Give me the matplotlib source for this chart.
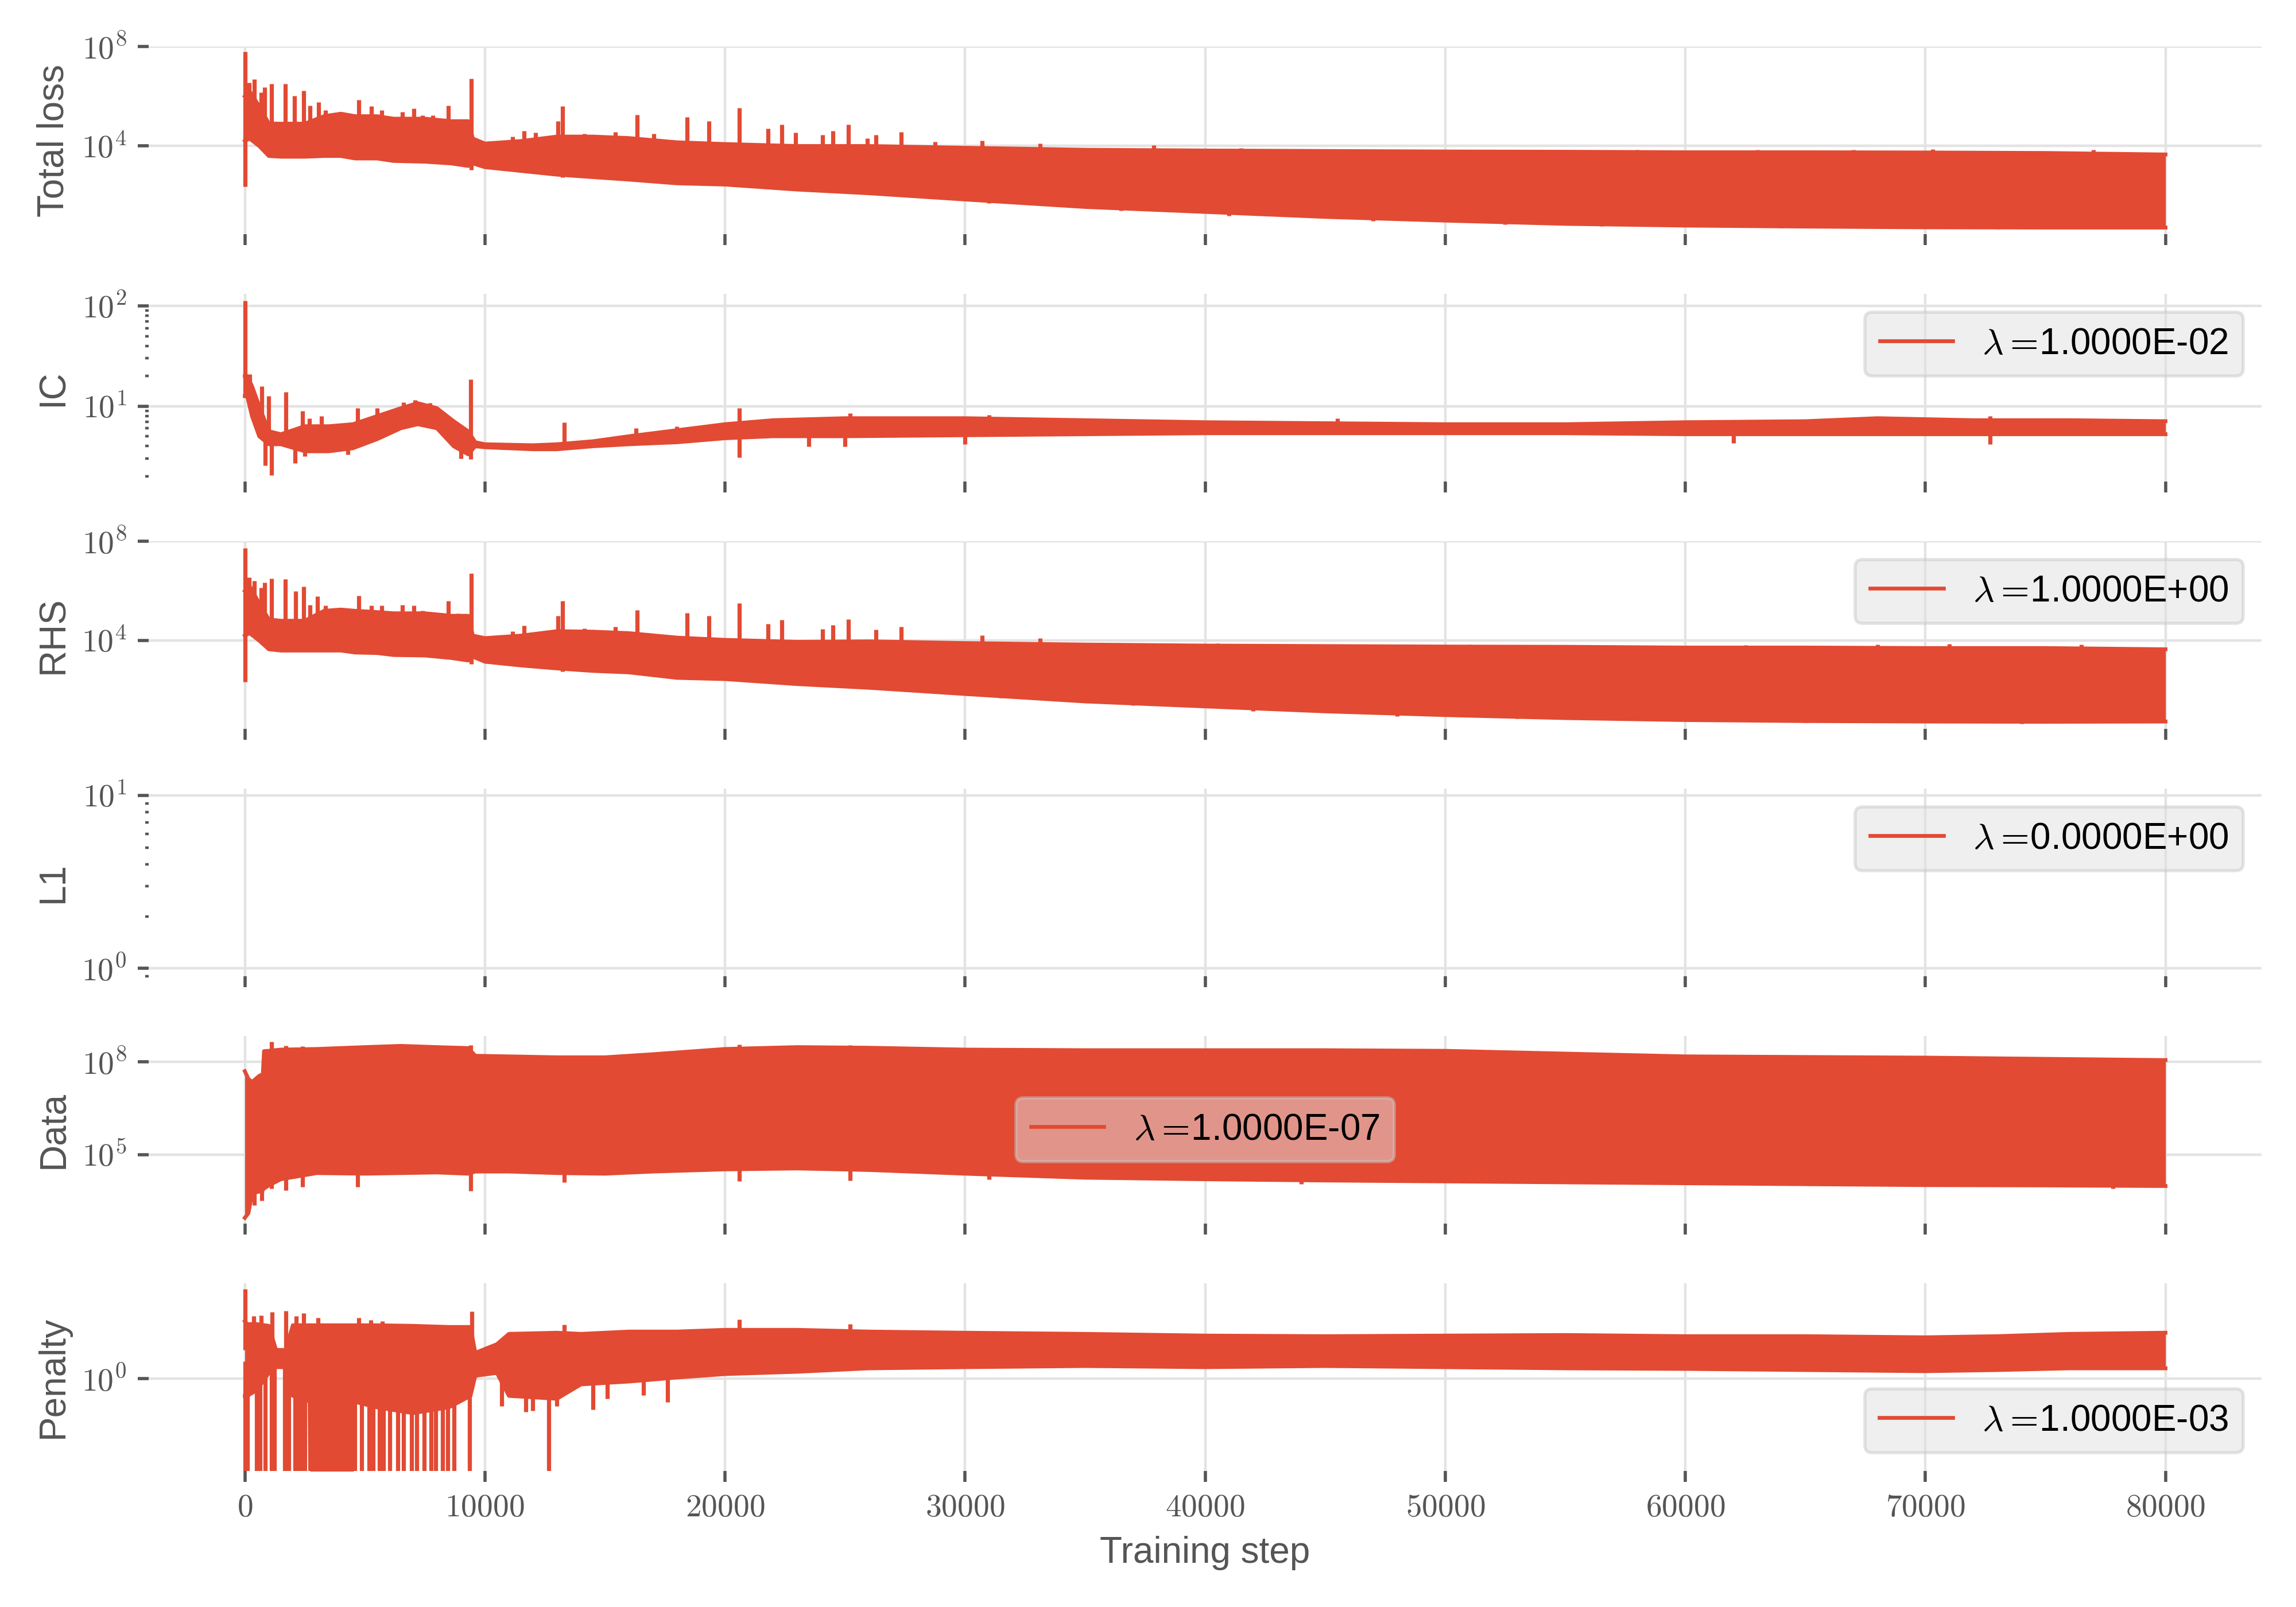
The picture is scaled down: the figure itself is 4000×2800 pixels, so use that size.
import numpy as np
import matplotlib
matplotlib.use("Agg")
import matplotlib.pyplot as plt
from matplotlib.ticker import FixedLocator, FuncFormatter, NullLocator, LogLocator, NullFormatter

# all loss values below as log10 exponents
RED = "#E24A33"

# Total loss
total_steps = [0, 200, 600, 1000, 1500, 2500, 3300, 4000, 4600, 5500, 6200, 7500, 8600, 9300, 9500, 10000,
               11500, 13000, 14500, 16000, 18000, 20000, 23000, 26000, 30000, 35000, 40000, 45000, 50000,
               55000, 60000, 65000, 70000, 75000, 80000]
total_hi = [6.0, 6.2, 5.6, 4.9, 4.9, 4.9, 5.2, 5.3, 5.2, 5.2, 5.1, 5.1, 5.0, 5.0, 4.3, 4.1, 4.2, 4.38,
            4.38, 4.32, 4.15, 4.08, 4.0, 4.0, 3.93, 3.85, 3.82, 3.8, 3.78, 3.77, 3.75, 3.75, 3.74, 3.72, 3.66]
total_lo = [4.2, 4.3, 4.0, 3.6, 3.57, 3.57, 3.6, 3.6, 3.5, 3.5, 3.4, 3.37, 3.3, 3.2, 3.3, 3.15, 3.0, 2.85,
            2.75, 2.65, 2.5, 2.45, 2.25, 2.1, 1.85, 1.55, 1.35, 1.15, 1.0, 0.87, 0.8, 0.76, 0.73, 0.72, 0.72]
total_spike_steps = [0, 190, 320, 400, 680, 830, 1110, 1690, 2070, 2460, 2710, 3060, 3350, 3650, 3980, 4740,
                     5280, 5700, 6560, 7050, 7410, 7840, 8480, 8880, 9440, 11150, 11620, 12100, 13030, 13230,
                     14150, 15430, 16350, 17030, 18420, 19320, 20600, 21800, 22370, 22950, 24060, 24490,
                     25130, 25920, 26280, 27350, 28760, 30700, 33120, 37860,
                     40000, 41500, 44000, 52000, 58000, 63000, 67000, 70300, 77000,
                     9440, 13230, 31000, 36500, 41000, 47000, 52500, 56500, 64000, 73000]
total_spike_lo = [2.38, 5.0, 5.0, 5.0, 4.8, 4.8, 4.3, 4.3, 4.3, 4.3, 4.5, 4.5, 4.6, 4.6, 4.6, 4.5, 4.5, 4.5,
                  4.4, 4.4, 4.4, 4.3, 4.3, 4.2, 4.0, 3.7, 3.7, 3.7, 3.6, 3.6, 3.5, 3.5, 3.5, 3.4, 3.3, 3.3,
                  3.2, 3.1, 3.0, 3.0, 3.0, 3.0, 3.0, 2.9, 2.9, 2.8, 2.7, 2.6, 2.5, 2.3,
                  3.5, 3.5, 3.5, 3.5, 3.5, 3.5, 3.5, 3.5, 3.4,
                  3.05, 2.75, 1.7, 1.4, 1.2, 0.98, 0.85, 0.78, 0.7, 0.66]
total_spike_hi = [7.79, 6.56, 6.03, 6.7, 6.16, 6.36, 6.5, 6.5, 6.03, 6.23, 5.63, 5.77, 5.44, 5.3, 5.35, 5.86,
                  5.6, 5.44, 5.37, 5.5, 5.24, 5.24, 5.63, 5.04, 6.72, 4.37, 4.6, 4.55, 5.0, 5.6, 4.5, 4.57,
                  5.26, 4.5, 5.17, 5.0, 5.54, 4.7, 4.86, 4.54, 4.46, 4.62, 4.87, 4.31, 4.44, 4.57, 4.17,
                  4.22, 4.1, 4.04,
                  3.9, 3.92, 3.87, 3.86, 3.84, 3.84, 3.86, 3.88, 3.85,
                  3.4, 3.1, 2.1, 1.8, 1.6, 1.3, 1.2, 1.1, 1.0, 1.0]

# IC
ic_steps = [0, 100, 300, 600, 1000, 1500, 2500, 3500, 4500, 5500, 6500, 7200, 8000, 8700, 9300, 9600, 10000,
            12000, 13000, 14500, 16000, 18000, 20000, 22000, 25000, 30000, 35000, 40000, 45000, 50000, 55000,
            60000, 65000, 68000, 72000, 76000, 80000]
ic_hi = [1.3, 1.3, 1.2, 1.0, 0.75, 0.72, 0.8, 0.8, 0.82, 0.9, 0.98, 1.03, 0.98, 0.85, 0.75, 0.64, 0.62,
         0.61, 0.62, 0.65, 0.7, 0.76, 0.82, 0.86, 0.88, 0.88, 0.86, 0.84, 0.83, 0.82, 0.82, 0.84, 0.85, 0.88,
         0.86, 0.86, 0.85]
ic_lo = [1.1, 1.1, 0.9, 0.7, 0.62, 0.62, 0.55, 0.55, 0.58, 0.67, 0.78, 0.82, 0.78, 0.6, 0.52, 0.6, 0.59,
         0.57, 0.57, 0.6, 0.62, 0.64, 0.68, 0.7, 0.7, 0.71, 0.72, 0.73, 0.73, 0.73, 0.73, 0.72, 0.72, 0.72,
         0.72, 0.72, 0.72]
ic_spike_steps = [0, 200, 700, 1000, 1700, 2400, 2700, 3200, 4700, 5500, 6600, 7100, 7700, 9400, 13300, 16300,
                  18000, 20600, 25200, 31000, 45500, 72700, 74000,
                  850, 1100, 2100, 2500, 3100, 4300, 9000, 9400, 20600, 23500, 25000, 30000, 62000, 72700]
ic_spike_lo = [1.12, 1.1, 0.9, 0.7, 0.64, 0.7, 0.7, 0.7, 0.75, 0.8, 0.9, 0.9, 0.9, 0.6, 0.58, 0.65, 0.7,
               0.75, 0.8, 0.8, 0.78, 0.78, 0.78,
               0.41, 0.31, 0.43, 0.5, 0.55, 0.52, 0.48, 0.47, 0.49, 0.6, 0.6, 0.62, 0.63, 0.62]
ic_spike_hi = [2.05, 1.32, 1.2, 1.1, 1.14, 0.95, 0.88, 0.9, 0.98, 0.98, 1.04, 1.06, 1.03, 1.27, 0.84, 0.78,
               0.8, 0.98, 0.93, 0.91, 0.88, 0.9, 0.88,
               0.7, 0.64, 0.64, 0.6, 0.6, 0.6, 0.6, 0.55, 0.7, 0.72, 0.72, 0.72, 0.73, 0.73]

# RHS
rhs_steps = [0, 200, 600, 1000, 1500, 2500, 3300, 4000, 4600, 5500, 6200, 7500, 8600, 9300, 9500, 10000,
             11500, 13000, 14500, 16000, 18000, 20000, 23000, 26000, 30000, 35000, 40000, 45000, 50000,
             55000, 60000, 65000, 70000, 75000, 80000]
rhs_hi = [6.0, 6.2, 5.5, 4.85, 4.8, 4.8, 5.2, 5.25, 5.2, 5.15, 5.1, 5.1, 5.0, 5.0, 4.2, 4.1, 4.2, 4.38, 4.36,
          4.3, 4.12, 4.03, 3.95, 3.97, 3.9, 3.84, 3.8, 3.78, 3.76, 3.75, 3.72, 3.72, 3.7, 3.7, 3.65]
rhs_lo = [4.2, 4.3, 4.0, 3.65, 3.6, 3.6, 3.6, 3.6, 3.52, 3.5, 3.42, 3.4, 3.3, 3.2, 3.35, 3.15, 3.0, 2.88,
          2.78, 2.72, 2.5, 2.45, 2.25, 2.1, 1.85, 1.55, 1.35, 1.15, 1.0, 0.88, 0.8, 0.76, 0.74, 0.73, 0.74]
rhs_spike_steps = [0, 190, 400, 680, 830, 1110, 1690, 2110, 2460, 2710, 3030, 3350, 4740, 5280, 5700, 6560,
                   7050, 7410, 8480, 8880, 9440, 11150, 11620, 13030, 13230, 14150, 15430, 16350, 18420,
                   19320, 20600, 21800, 22370, 24060, 24490, 25130, 26280, 27350, 30700, 33120,
                   40500, 43000, 51000, 57000, 62500, 68000, 71000, 76500,
                   9440, 13230, 31500, 37000, 42000, 48000, 53000, 57500, 65000, 74000]
rhs_spike_lo = [2.35, 5.0, 5.0, 4.8, 4.8, 4.3, 4.3, 4.3, 4.3, 4.5, 4.5, 4.6, 4.5, 4.5, 4.5, 4.4, 4.4, 4.4,
                4.3, 4.2, 4.0, 3.7, 3.7, 3.6, 3.6, 3.5, 3.5, 3.5, 3.3, 3.3, 3.2, 3.1, 3.0, 3.0, 3.0, 3.0,
                2.9, 2.8, 2.6, 2.5,
                3.5, 3.5, 3.5, 3.5, 3.5, 3.5, 3.5, 3.4,
                3.05, 2.75, 1.7, 1.4, 1.15, 0.95, 0.85, 0.78, 0.7, 0.66]
rhs_spike_hi = [7.73, 6.54, 6.4, 6.14, 6.34, 6.5, 6.47, 6.0, 6.18, 5.44, 5.78, 5.41, 5.8, 5.41, 5.41, 5.44,
                5.41, 5.2, 5.61, 5.1, 6.71, 4.37, 4.6, 5.0, 5.6, 4.5, 4.57, 5.24, 5.12, 5.0, 5.51, 4.68,
                4.84, 4.46, 4.62, 4.85, 4.44, 4.55, 4.22, 4.1,
                3.88, 3.86, 3.84, 3.83, 3.82, 3.85, 3.86, 3.84,
                3.4, 3.1, 2.1, 1.8, 1.55, 1.3, 1.2, 1.1, 1.0, 1.0]

# L1 (all zero)
l1_steps = [0, 80000]
l1_values = [0.0, 0.0]

# Data
data_steps = [0, 150, 300, 600, 750, 800, 1000, 1500, 3000, 5000, 6500, 8000, 9300, 9600, 11000, 13000,
              15000, 17000, 20000, 23000, 26000, 30000, 35000, 40000, 45000, 50000, 55000, 60000, 65000,
              70000, 75000, 80000]
data_hi = [7.7, 7.45, 7.35, 7.55, 7.6, 8.35, 8.36, 8.4, 8.42, 8.48, 8.52, 8.48, 8.45, 8.2, 8.18, 8.15,
           8.15, 8.25, 8.42, 8.48, 8.46, 8.4, 8.38, 8.38, 8.38, 8.36, 8.27, 8.18, 8.16, 8.14, 8.1, 8.06]
data_lo = [2.95, 3.1, 3.75, 3.8, 3.85, 3.9, 4.0, 4.2, 4.4, 4.38, 4.4, 4.42, 4.38, 4.45, 4.45, 4.4, 4.38,
           4.45, 4.52, 4.55, 4.5, 4.38, 4.25, 4.2, 4.16, 4.13, 4.1, 4.07, 4.04, 4.01, 4.0, 3.98]
data_spike_steps = [1100, 1700, 2400, 9400, 20600, 25200, 33000, 47000, 74500,
                    400, 700, 1100, 1700, 2400, 4700, 9400, 13300, 20600, 25200, 31000, 44000, 77800]
data_spike_lo = [8.3, 8.35, 8.35, 8.35, 8.35, 8.4, 8.3, 8.3, 8.0,
                 3.35, 3.5, 3.9, 3.85, 3.95, 3.95, 3.83, 4.1, 4.13, 4.15, 4.2, 4.05, 3.9]
data_spike_hi = [8.65, 8.52, 8.5, 8.54, 8.56, 8.55, 8.45, 8.44, 8.16,
                 4.0, 4.0, 4.2, 4.3, 4.4, 4.4, 4.4, 4.45, 4.55, 4.55, 4.45, 4.3, 4.1]

# Penalty
pen_steps = [0, 100, 500, 1000, 1300, 1700, 2000, 2700, 2750, 4500, 4550, 5500, 7000, 8500, 9400, 9600,
             10500, 11000, 13000, 14000, 16000, 18000, 20000, 23000, 26000, 30000, 35000, 40000, 45000,
             50000, 55000, 60000, 65000, 70000, 73000, 76000, 80000]
pen_hi = [1.0, 0.95, 0.95, 0.92, 0.5, 0.5, 0.93, 0.93, 0.93, 0.93, 0.93, 0.93, 0.92, 0.9, 0.9, 0.45, 0.6,
          0.78, 0.8, 0.78, 0.82, 0.82, 0.85, 0.85, 0.82, 0.8, 0.78, 0.75, 0.74, 0.75, 0.76, 0.74, 0.74,
          0.72, 0.74, 0.78, 0.8]
pen_lo = [-0.3, -0.3, -0.2, 0.1, 0.2, 0.2, -0.3, -0.4, -3.0, -3.0, -0.4, -0.5, -0.6, -0.5, -0.3, 0.05, 0.1,
          -0.3, -0.35, -0.1, -0.05, 0.02, 0.08, 0.12, 0.18, 0.2, 0.22, 0.2, 0.22, 0.2, 0.18, 0.17, 0.15,
          0.13, 0.15, 0.18, 0.18]
pen_spike_steps = [0, 370, 690, 1140, 1710, 2140, 2440, 3040, 4750, 5240, 5720, 9450, 13300, 20600, 25200,
                   10700, 11700, 12000, 13000, 14500, 15100, 16600, 17600]
pen_spike_lo = [0.5, 0.5, 0.5, 0.4, 0.4, 0.6, 0.6, 0.6, 0.6, 0.6, 0.6, 0.6, 0.5, 0.5, 0.5,
                -0.48, -0.58, -0.56, -0.48, -0.54, -0.35, -0.29, -0.41]
pen_spike_hi = [1.56, 1.09, 1.1, 1.16, 1.18, 1.09, 1.14, 1.06, 1.06, 1.02, 1.0, 1.17, 0.94, 1.03, 0.95,
                0.1, 0.0, 0.0, 0.0, 0.1, 0.1, 0.1, 0.1]
# steps where the penalty falls to zero
pen_drop_steps = [20, 100, 480, 640, 850, 1120, 1230, 1650, 1820, 2080, 2190, 2350, 2510, 4590, 4860, 5180,
                  5340, 5610, 5770, 6040, 6360, 6620, 6950, 7160, 7480, 7750, 7960, 8230, 8440, 8710, 9350,
                  12650]
pen_drop_from = [0.3] * 31 + [-0.3]

lambda_labels = ["1.0000E-02", "1.0000E+00", "0.0000E+00", "1.0000E-07", "1.0000E-03"]
legend_locs = ["upper right", "upper right", "upper right", "center", "lower right"]
ylabels = ["Total loss", "IC", "RHS", "L1", "Data", "Penalty"]
ylims_exp = [(0.45, 8.0), (0.247, 2.12), (0.44, 8.0), (-0.046, 1.04), (2.76, 8.84), (-1.61, 1.66)]
yticks_exp = [[4, 8], [1, 2], [4, 8], [0, 1], [5, 8], [0]]

plt.rcParams["mathtext.fontset"] = "cm"
plt.rcParams["font.family"] = ["Liberation Sans", "DejaVu Sans"]

fig, axes = plt.subplots(6, 1, figsize=(10, 7), dpi=400, sharex=True)
fig.subplots_adjust(left=0.0648, right=0.985, top=0.971, bottom=0.0846, hspace=0.318)


def e(vals):
    return 10.0 ** np.array(vals)


def band(ax, steps, lo, hi, label=None):
    ax.fill_between(steps, e(lo), e(hi), color=RED, lw=0)
    ax.plot(steps, e(hi), color=RED, lw=1.2, label=label)
    ax.plot(steps, e(lo), color=RED, lw=1.2)


def lam(s):
    return r"$\lambda=\!$" + s


for ax in axes:
    ax.set_yscale("log")

band(axes[0], total_steps, total_lo, total_hi)
axes[0].vlines(total_spike_steps, e(total_spike_lo), e(total_spike_hi), color=RED, lw=1.3)

band(axes[1], ic_steps, ic_lo, ic_hi, lam(lambda_labels[0]))
axes[1].vlines(ic_spike_steps, e(ic_spike_lo), e(ic_spike_hi), color=RED, lw=1.3)

band(axes[2], rhs_steps, rhs_lo, rhs_hi, lam(lambda_labels[1]))
axes[2].vlines(rhs_spike_steps, e(rhs_spike_lo), e(rhs_spike_hi), color=RED, lw=1.3)

axes[3].plot(l1_steps, l1_values, color=RED, lw=1.2, label=lam(lambda_labels[2]))

band(axes[4], data_steps, data_lo, data_hi, lam(lambda_labels[3]))
axes[4].vlines(data_spike_steps, e(data_spike_lo), e(data_spike_hi), color=RED, lw=1.3)

band(axes[5], pen_steps, pen_lo, pen_hi, lam(lambda_labels[4]))
axes[5].vlines(pen_spike_steps, e(pen_spike_lo), e(pen_spike_hi), color=RED, lw=1.3)
axes[5].vlines(pen_drop_steps, np.zeros(len(pen_drop_steps)), e(pen_drop_from), color=RED, lw=1.3)

yfmt = FuncFormatter(lambda v, p: r"$10^{%d}$" % int(round(np.log10(v))))
xfmt = FuncFormatter(lambda v, p: r"$%d$" % int(round(v)))

for i, ax in enumerate(axes):
    lo, hi = ylims_exp[i]
    ax.set_ylim(10 ** lo, 10 ** hi)
    ax.set_xlim(-4000, 84000)
    ax.yaxis.set_major_locator(FixedLocator([10.0 ** k for k in yticks_exp[i]]))
    ax.yaxis.set_major_formatter(yfmt)
    if ylabels[i] in ("IC", "L1"):
        ax.yaxis.set_minor_locator(LogLocator(base=10, subs=np.arange(2, 10)))
    else:
        ax.yaxis.set_minor_locator(NullLocator())
    ax.yaxis.set_minor_formatter(NullFormatter())
    ax.xaxis.set_major_locator(FixedLocator(list(range(0, 80001, 10000))))
    ax.xaxis.set_major_formatter(xfmt)
    for s in ax.spines.values():
        s.set_visible(False)
    ax.set_facecolor("white")
    ax.grid(True, which="major", color="#e3e3e3", lw=0.8)
    ax.set_axisbelow(True)
    ax.tick_params(which="major", length=3.5, width=1.0, color="#555555", labelcolor="#555555",
                   labelsize=10, direction="out")
    ax.tick_params(which="minor", length=1.0, width=0.8, color="#555555")
    ax.set_ylabel(ylabels[i], fontsize=11.5, color="#555555")
    ax.yaxis.set_label_coords(-0.037, 0.5)
    if i > 0:
        ax.legend(loc=legend_locs[i - 1], fontsize=11.5, facecolor="#e1e1e1", edgecolor="#c8c8c8",
                  framealpha=0.5, fancybox=True)

axes[-1].set_xlabel("Training step", fontsize=11.5, color="#555555")

fig.savefig("out.png", dpi=400)
